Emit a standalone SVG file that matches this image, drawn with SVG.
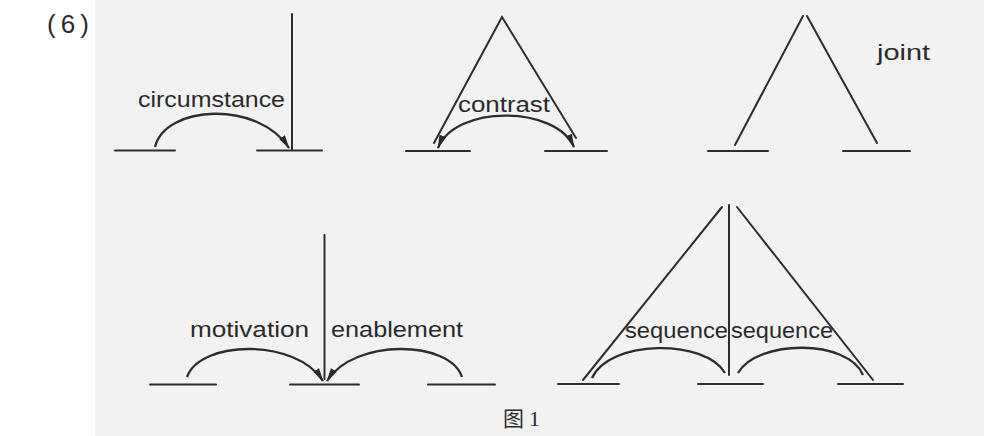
<svg xmlns="http://www.w3.org/2000/svg" width="984" height="436" viewBox="0 0 984 436">
<style>
.ln{stroke:#2e2e2e;stroke-width:2;fill:none;stroke-linecap:round}
.arc{stroke:#2e2e2e;stroke-width:2.3;fill:none}
.lbl{font-family:"Liberation Sans","DejaVu Sans",sans-serif;font-size:22px;fill:#2a2a2a}
</style>
<defs>
<marker id="ah" viewBox="0 0 14 8" refX="13" refY="4" markerWidth="14" markerHeight="8" markerUnits="userSpaceOnUse" orient="auto-start-reverse">
<path d="M0,0.5 L14,4 L0,7.5 Z" fill="#2a2a2a"/>
</marker>
</defs>
<rect x="0" y="0" width="984" height="436" fill="#ffffff"/>
<rect x="95" y="0" width="889" height="436" fill="#f2f2f2"/>
<text x="47" y="33" font-family="Liberation Sans, sans-serif" font-size="26" fill="#2a2a2a" textLength="42" lengthAdjust="spacing">(6)</text>

<g id="circumstance">
<line class="ln" x1="115" y1="150.5" x2="175" y2="150.5"/>
<line class="ln" x1="257" y1="150.5" x2="322" y2="150.5"/>
<line class="ln" x1="292" y1="14" x2="292" y2="150"/>
<text class="lbl" x="138" y="107" textLength="147" lengthAdjust="spacingAndGlyphs">circumstance</text>
</g>

<g id="contrast">
<line class="ln" x1="406" y1="151" x2="470" y2="151"/>
<line class="ln" x1="545" y1="151" x2="607" y2="151"/>
<polyline class="ln" points="434,143 502,17 576,138"/>
<text class="lbl" x="458" y="112" textLength="92" lengthAdjust="spacingAndGlyphs">contrast</text>
</g>

<g id="joint">
<line class="ln" x1="708" y1="151" x2="768" y2="151"/>
<line class="ln" x1="843" y1="151" x2="910" y2="151"/>
<line class="ln" x1="735" y1="145" x2="803" y2="16"/>
<line class="ln" x1="807" y1="16" x2="877" y2="143"/>
<text class="lbl" x="877" y="60" textLength="53" lengthAdjust="spacingAndGlyphs">joint</text>
</g>

<g id="motivation-enablement">
<line class="ln" x1="150" y1="384.5" x2="216" y2="384.5"/>
<line class="ln" x1="290" y1="384.5" x2="359" y2="384.5"/>
<line class="ln" x1="428" y1="384.5" x2="495" y2="384.5"/>
<line class="ln" x1="324.5" y1="235" x2="324.5" y2="379"/>
<text class="lbl" x="190" y="337" textLength="119" lengthAdjust="spacingAndGlyphs">motivation</text>
<text class="lbl" x="331" y="337" textLength="132" lengthAdjust="spacingAndGlyphs">enablement</text>
</g>

<g id="sequence">
<line class="ln" x1="558" y1="384" x2="619" y2="384"/>
<line class="ln" x1="698" y1="384" x2="763" y2="384"/>
<line class="ln" x1="838" y1="384" x2="903" y2="384"/>
<line class="ln" x1="722" y1="207" x2="583" y2="380"/>
<line class="ln" x1="729" y1="205" x2="729" y2="375"/>
<line class="ln" x1="737" y1="207" x2="873" y2="380"/>
<text class="lbl" x="625" y="338" textLength="103" lengthAdjust="spacingAndGlyphs">sequence</text>
<text class="lbl" x="731" y="338" textLength="102" lengthAdjust="spacingAndGlyphs">sequence</text>
</g>

<g id="connectors">
<path class="arc" d="M155,147 C165,105 258,100 289,148" marker-end="url(#ah)"/>
<path class="arc" d="M438,148 C455,105 555,105 574,147" marker-start="url(#ah)" marker-end="url(#ah)"/>
<path class="arc" d="M187,377 C200,340 296,338 323,381" marker-end="url(#ah)"/>
<path class="arc" d="M462,377 C450,340 354,338 327,381" marker-end="url(#ah)"/>
<path class="arc" d="M592,378 C610,339 705,339 725,373"/>
<path class="arc" d="M738,373 C758,339 848,339 863,375"/>
</g>

<text x="503" y="426" font-family="Noto Sans CJK SC, sans-serif" font-size="21" fill="#2a2a2a">图</text>
<text x="529" y="426" font-family="Liberation Serif, serif" font-size="22" fill="#2a2a2a">1</text>
</svg>
